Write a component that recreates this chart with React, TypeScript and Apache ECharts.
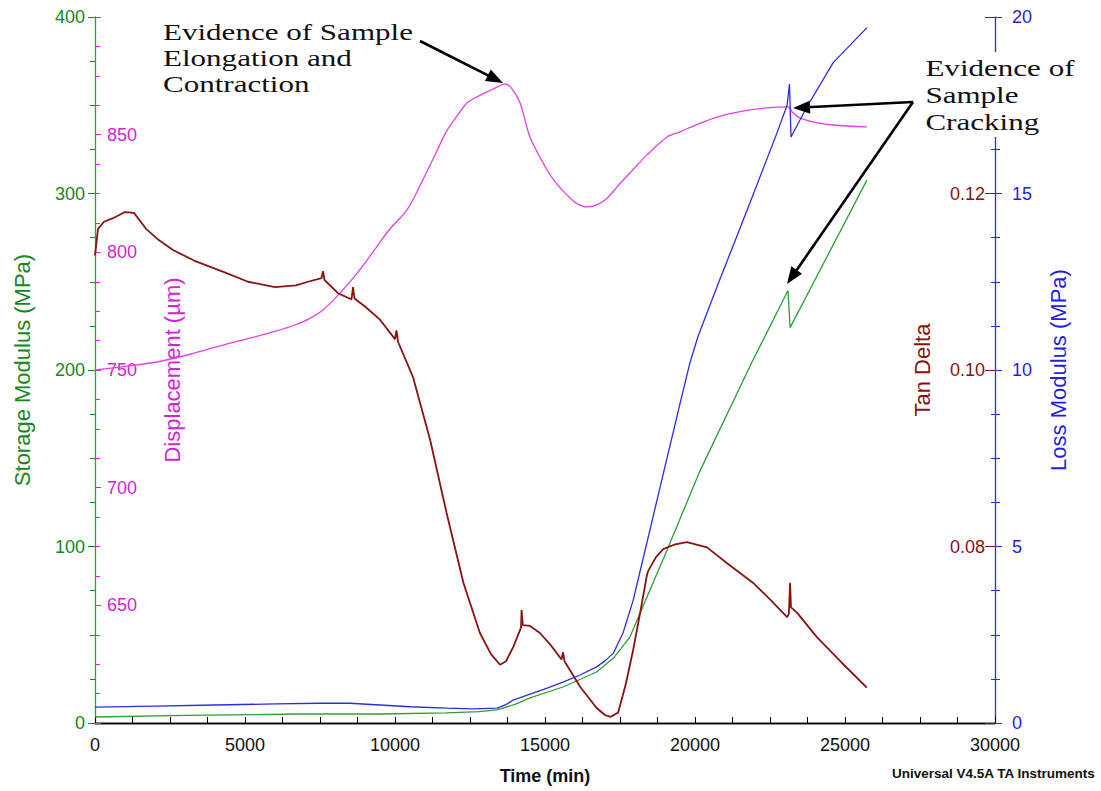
import React, { useEffect, useRef } from "react";
import * as echarts from "echarts";

// ---- Data ----
const storageTime = [0, 3000, 6830, 9500, 11720, 12800, 13400, 14000, 14500, 15600, 16720, 17280, 17830, 18400, 19070, 20170, 21900, 23100, 23170, 25730];
const storageValues = [3.4, 4.3, 5.1, 5.1, 5.7, 6.5, 7.4, 10.5, 14.2, 20.4, 28.9, 36.8, 48.7, 71.4, 98, 143, 204.5, 245, 224, 307.6];

const lossTime = [0, 2000, 4000, 6000, 7500, 8500, 9500, 10500, 11720, 12600, 13400, 13700, 13940, 14500, 15070, 15600, 16170, 16720, 17000, 17280, 17600, 17940, 18400, 18940, 19500, 19830, 20100, 20730, 21830, 22730, 23070, 23150, 23200, 23730, 24600, 25730];
const lossValues = [0.45, 0.48, 0.51, 0.54, 0.56, 0.56, 0.51, 0.46, 0.42, 0.4, 0.42, 0.52, 0.65, 0.82, 0.99, 1.16, 1.36, 1.59, 1.76, 1.98, 2.55, 3.48, 5.12, 7.05, 9.05, 10.2, 10.95, 12.35, 14.73, 16.71, 17.5, 18.1, 16.6, 17.45, 18.7, 19.7];

const dispTime = [0, 1000, 2070, 3200, 4270, 5100, 5930, 6600, 7070, 7600, 8170, 8700, 9270, 9800, 10400, 10930, 11300, 11720, 12100, 12400, 12800, 13170, 13450, 13650, 13850, 14170, 14500, 15070, 15400, 15730, 16050, 16400, 16750, 17070, 17450, 17830, 18400, 19070, 19500, 20100, 20730, 21500, 22400, 23100, 23250, 23500, 24000, 24600, 25730];
const dispValues = [750.0, 751.5, 753.4, 756.8, 760.6, 763.3, 766.2, 768.8, 771.3, 775.5, 782.7, 790.5, 800.2, 809.5, 818.0, 830.8, 840.5, 851.5, 858.5, 863.5, 866.5, 868.8, 870.5, 871.6, 870.3, 863.5, 849, 835, 829, 824.4, 820.8, 819.3, 820.3, 823, 828.5, 833.7, 841.4, 849, 851.2, 854.5, 857.5, 859.8, 861.4, 861.8, 859.5, 857.1, 855.2, 854.1, 853.3];

const tanTime = [0, 100, 300, 600, 1000, 1300, 1700, 2100, 2600, 3300, 4300, 5100, 6000, 6700, 7100, 7550, 7600, 7650, 8100, 8550, 8600, 8650, 9000, 9500, 10000, 10050, 10100, 10600, 11170, 11720, 12280, 12830, 13200, 13500, 13700, 13940, 14200, 14220, 14260, 14500, 14830, 15200, 15550, 15600, 15650, 16170, 16720, 17000, 17200, 17440, 17700, 17940, 18200, 18400, 18450, 18700, 18940, 19300, 19730, 20400, 21070, 21930, 22500, 23070, 23130, 23170, 23200, 23400, 24070, 24900, 25730];
const tanValues = [0.113, 0.116, 0.1168, 0.1172, 0.1179, 0.1178, 0.116, 0.1148, 0.1136, 0.1124, 0.1111, 0.11, 0.1094, 0.1096, 0.11, 0.1104, 0.1112, 0.1102, 0.1087, 0.108, 0.1094, 0.1081, 0.1072, 0.1057, 0.1035, 0.1045, 0.1032, 0.0992, 0.0921, 0.0838, 0.0759, 0.0702, 0.0678, 0.0666, 0.067, 0.0686, 0.0708, 0.0728, 0.0711, 0.071, 0.0702, 0.0688, 0.0672, 0.068, 0.067, 0.0641, 0.0617, 0.0609, 0.0607, 0.0612, 0.0645, 0.0683, 0.073, 0.0768, 0.0773, 0.0788, 0.0797, 0.0802, 0.0805, 0.0799, 0.0781, 0.0759, 0.074, 0.072, 0.0724, 0.0759, 0.0731, 0.0725, 0.0697, 0.0668, 0.064];

const GREEN_TEXT = "#17861b";
const GREEN_LINE = "#2f9e35";
const MAGENTA_TEXT = "#d61fd6";
const MAGENTA_LINE = "#e540e5";
const DARKRED = "#8b1212";
const BLUE_TEXT = "#1f1fe6";
const BLUE_LINE = "#2c2ce8";
const SANS = '"Liberation Sans", Arial, sans-serif';
const SERIF = '"Liberation Serif", "Times New Roman", serif';

function zip(t: number[], v: number[]) {
  return t.map((x, i) => [x, v[i]]);
}

function arrow(x1: number, y1: number, x2: number, y2: number) {
  const dx = x2 - x1;
  const dy = y2 - y1;
  const len = Math.hypot(dx, dy);
  const ux = dx / len;
  const uy = dy / len;
  const hl = 17;
  const hw = 6.5;
  const bx = x2 - ux * hl;
  const by = y2 - uy * hl;
  return [
    {
      type: "line",
      z: 101,
      shape: { x1, y1, x2: bx + ux * 3, y2: by + uy * 3 },
      style: { stroke: "#000", lineWidth: 2.6 },
    },
    {
      type: "polygon",
      z: 101,
      shape: {
        points: [
          [x2, y2],
          [bx - uy * hw, by + ux * hw],
          [bx + uy * hw, by - ux * hw],
        ],
      },
      style: { fill: "#000" },
    },
  ];
}

export default function App() {
  const ref = useRef<HTMLDivElement>(null);

  useEffect(() => {
    if (!ref.current) return;
    const chart = echarts.init(ref.current, undefined, { renderer: "svg" });
    const labelFont = { fontFamily: SANS, fontSize: 18 };
    const nameFont = { fontFamily: SANS, fontSize: 22 };

    chart.setOption({
      animation: false,
      backgroundColor: "#fff",
      grid: { left: 95, right: 106, top: 17, bottom: 68, containLabel: false },
      xAxis: [
        {
          type: "value",
          position: "bottom",
          min: 0,
          max: 30000,
          interval: 5000,
          name: "Time (min)",
          nameLocation: "middle",
          nameGap: 44,
          nameTextStyle: { fontFamily: SANS, fontSize: 18, fontWeight: "bold", color: "#111" },
          axisLine: { show: true, lineStyle: { color: "#000", width: 1.3 } },
          axisTick: { show: true, inside: true, length: 6, lineStyle: { color: "#000" } },
          minorTick: { show: true, splitNumber: 4, length: 6, lineStyle: { color: "#000" } },
          axisLabel: { ...labelFont, color: "#111", margin: 13, formatter: (v: number) => String(v) },
          splitLine: { show: false },
        },
        {
          type: "value",
          position: "top",
          min: 0,
          max: 30000,
          axisLine: { show: true, lineStyle: { color: "#000", width: 1.3 } },
          axisTick: { show: false },
          axisLabel: { show: false },
          splitLine: { show: false },
        },
      ],
      yAxis: [
        {
          type: "value",
          position: "left",
          min: 0,
          max: 400,
          interval: 100,
          name: "Storage Modulus (MPa)",
          nameLocation: "middle",
          nameGap: 62,
          nameRotate: 90,
          nameTextStyle: { ...nameFont, color: GREEN_TEXT },
          axisLine: { show: true, lineStyle: { color: GREEN_LINE, width: 1.3 } },
          axisTick: { show: true, inside: false, length: 7, lineStyle: { color: GREEN_TEXT } },
          minorTick: { show: true, splitNumber: 4, length: 5, lineStyle: { color: GREEN_TEXT } },
          axisLabel: { ...labelFont, color: GREEN_TEXT, margin: 10 },
          splitLine: { show: false },
        },
        {
          type: "value",
          position: "left",
          offset: 0,
          min: 600,
          max: 900,
          interval: 50,
          name: "Displacement (µm)",
          nameLocation: "middle",
          nameGap: -88,
          nameRotate: 90,
          nameTextStyle: { ...nameFont, color: MAGENTA_TEXT },
          axisLine: { show: false },
          axisTick: { show: true, inside: true, length: 6, lineStyle: { color: MAGENTA_TEXT } },
          minorTick: { show: true, splitNumber: 4, length: 5, lineStyle: { color: MAGENTA_TEXT } },
          axisLabel: {
            ...labelFont,
            color: MAGENTA_TEXT,
            inside: true,
            margin: 12,
            showMinLabel: false,
            showMaxLabel: false,
          },
          splitLine: { show: false },
        },
        {
          type: "value",
          position: "right",
          offset: 0,
          min: 0.06,
          max: 0.14,
          interval: 0.02,
          name: "Tan Delta",
          nameLocation: "middle",
          nameGap: -84,
          nameRotate: 90,
          nameTextStyle: { ...nameFont, color: DARKRED },
          axisLine: { show: false },
          axisTick: { show: true, inside: true, length: 10, lineStyle: { color: DARKRED } },
          minorTick: { show: true, splitNumber: 4, length: 4, lineStyle: { color: BLUE_LINE } },
          axisLabel: {
            ...labelFont,
            color: DARKRED,
            inside: true,
            margin: 10,
            showMinLabel: false,
            showMaxLabel: false,
            formatter: (v: number) => v.toFixed(2),
          },
          splitLine: { show: false },
        },
        {
          type: "value",
          position: "right",
          offset: 0,
          min: 0,
          max: 20,
          interval: 5,
          name: "Loss Modulus (MPa)",
          nameLocation: "middle",
          nameGap: 52,
          nameRotate: 90,
          nameTextStyle: { ...nameFont, color: BLUE_TEXT },
          axisLine: { show: true, lineStyle: { color: BLUE_LINE, width: 1.3 } },
          axisTick: { show: true, inside: false, length: 7, lineStyle: { color: BLUE_LINE } },
          minorTick: { show: true, splitNumber: 4, length: 5, lineStyle: { color: BLUE_LINE } },
          axisLabel: { ...labelFont, color: BLUE_TEXT, margin: 17 },
          splitLine: { show: false },
        },
      ],
      series: [
        {
          name: "Storage Modulus",
          type: "line",
          xAxisIndex: 0,
          yAxisIndex: 0,
          showSymbol: false,
          data: zip(storageTime, storageValues),
          lineStyle: { color: GREEN_LINE, width: 1.3 },
          itemStyle: { color: GREEN_LINE },
        },
        {
          name: "Displacement",
          type: "line",
          xAxisIndex: 0,
          yAxisIndex: 1,
          showSymbol: false,
          smooth: 0.3,
          data: zip(dispTime, dispValues),
          lineStyle: { color: MAGENTA_LINE, width: 1.3 },
          itemStyle: { color: MAGENTA_LINE },
        },
        {
          name: "Tan Delta",
          type: "line",
          xAxisIndex: 0,
          yAxisIndex: 2,
          showSymbol: false,
          data: zip(tanTime, tanValues),
          lineStyle: { color: DARKRED, width: 1.8 },
          itemStyle: { color: DARKRED },
        },
        {
          name: "Loss Modulus",
          type: "line",
          xAxisIndex: 0,
          yAxisIndex: 3,
          showSymbol: false,
          data: zip(lossTime, lossValues),
          lineStyle: { color: BLUE_LINE, width: 1.3 },
          itemStyle: { color: BLUE_LINE },
        },
      ],
      graphic: [
        {
          type: "text",
          x: 163,
          y: 19,
          scaleX: 1.35,
          z: 100,
          style: {
            text: "Evidence of Sample\nElongation and\nContraction",
            fontFamily: SERIF,
            fontSize: 23,
            lineHeight: 26,
            fill: "#111",
          },
        },
        {
          type: "text",
          x: 920,
          y: 52,
          scaleX: 1.35,
          z: 100,
          style: {
            text: "Evidence of\nSample\nCracking",
            fontFamily: SERIF,
            fontSize: 23,
            lineHeight: 27,
            fill: "#111",
            backgroundColor: "#fff",
            padding: [3, 4, 1, 4],
          },
        },
        ...arrow(420, 41, 503, 83),
        ...arrow(913, 102, 793, 108),
        ...arrow(913, 102, 787, 284),
        {
          type: "text",
          x: 892,
          y: 766,
          z: 100,
          style: {
            text: "Universal V4.5A TA Instruments",
            fontFamily: SANS,
            fontSize: 13.5,
            fontWeight: "bold",
            fill: "#111",
          },
        },
      ],
    });

    return () => {
      chart.dispose();
    };
  }, []);

  return (
    <div
      ref={ref}
      style={{ position: "absolute", left: 0, top: 0, width: 1101, height: 791, background: "#fff" }}
    />
  );
}
